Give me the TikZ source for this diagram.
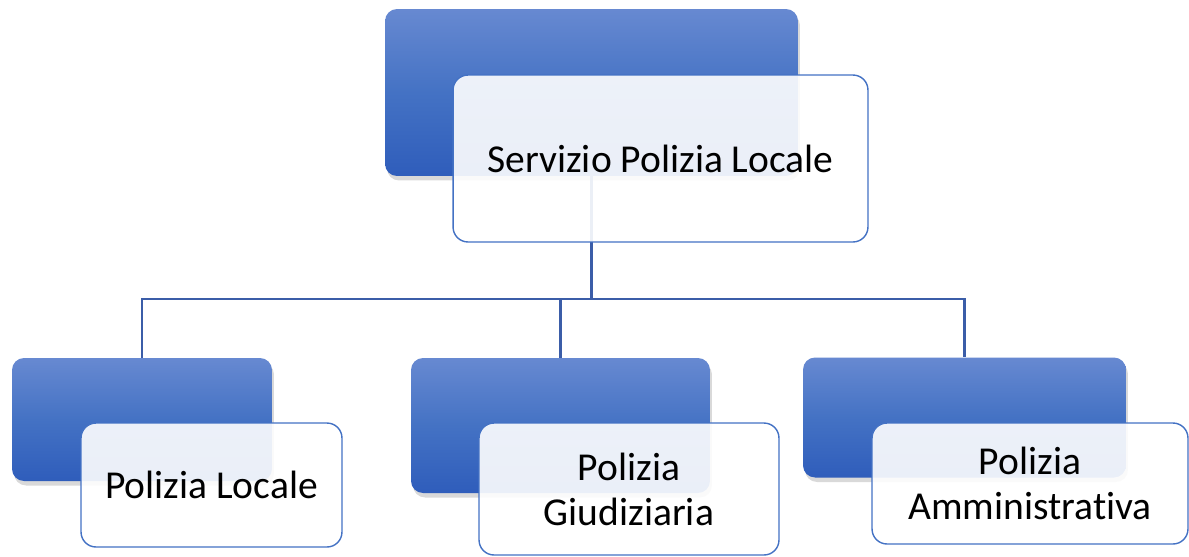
\documentclass[tikz,border=0pt]{standalone}
\usepackage{fontspec}
\setmainfont[Ligatures={NoCommon}]{Carlito}
\usetikzlibrary{shadows}
\definecolor{boxtop}{HTML}{6789D1}
\definecolor{boxmid}{HTML}{4472C4}
\definecolor{boxbot}{HTML}{2F5DBB}
\definecolor{linkblue}{HTML}{3B5DA8}
\begin{document}
\begin{tikzpicture}[x=0.02cm, y=-0.02cm,
    back/.style={rounded corners=0.24cm, top color=boxtop, bottom color=boxbot, middle color=boxmid,
      drop shadow={shadow xshift=0.04cm, shadow yshift=-0.09cm, opacity=0.3}, inner sep=0pt},
    front/.style={rounded corners=0.3cm, draw=boxmid, line width=0.8pt, fill=white, fill opacity=0.9,
      text opacity=1, align=center, inner sep=0pt, font=\fontsize{22.5}{25.6}\selectfont},
    link/.style={draw=linkblue, line width=1.6pt}]
  \useasboundingbox (0,0) rectangle (1189,556);
  % back boxes
  \node[back, minimum width=8.26cm, minimum height=3.34cm] (topback) at (591.5,92.5) {};
  \node[back, minimum width=5.2cm, minimum height=2.46cm] (localeback) at (142,419.5) {};
  \node[back, minimum width=5.98cm, minimum height=2.7cm] (giudback) at (560.5,425.5) {};
  \node[back, minimum width=6.46cm, minimum height=2.4cm] (ammback) at (964.5,417.5) {};
  % connectors
  \coordinate (fork) at (591.5,299);
  \draw[link] (topback.south) -- (fork) -| (localeback.north);
  \draw[link] (fork) -| (giudback.north);
  \draw[link] (fork) -| (ammback.north);
  % front boxes
  \node[front, minimum width=8.3cm, minimum height=3.34cm] (topfront) at (660.5,158.5) {Servizio Polizia Locale};
  \node[front, minimum width=5.22cm, minimum height=2.48cm] (localefront) at (211.5,485) {Polizia Locale};
  \node[front, minimum width=6cm, minimum height=2.64cm] (giudfront) at (629,489) {Polizia\\Giudiziaria};
  \node[front, minimum width=6.32cm, minimum height=2.42cm] (ammfront) at (1030,483.5) {Polizia\\Amministrativa};
\end{tikzpicture}
\end{document}
